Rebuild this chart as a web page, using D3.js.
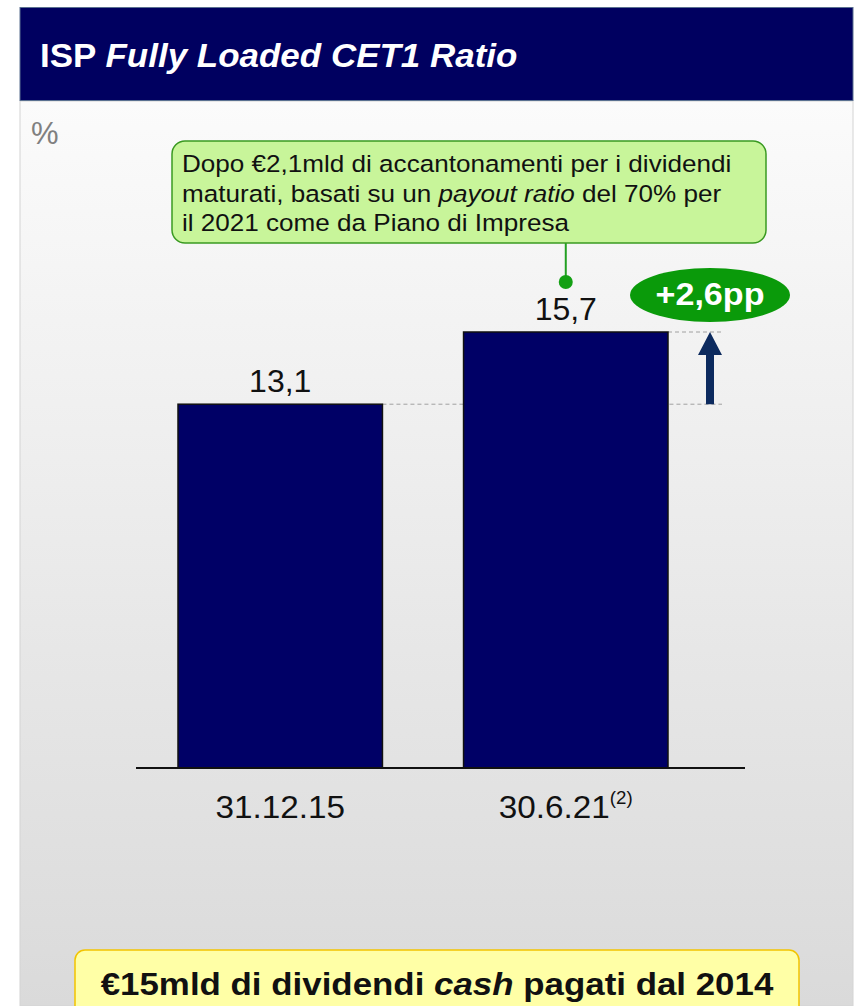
<!DOCTYPE html>
<html>
<head>
<meta charset="utf-8">
<script src="https://cdn.jsdelivr.net/npm/d3@7"></script>
<style>
  body { margin: 0; background: #ffffff; }
  svg { display: block; font-family: "Liberation Sans", Arial, sans-serif; }
</style>
</head>
<body>
<svg id="vis"></svg>
<script>
const WIDTH = 854;
const HEIGHT = 1006;

// dati del grafico
const categorie = ["31.12.15", "30.6.21"];
const note = ["", "(2)"];
const valori = [13.1, 15.7];
const etichette = ["13,1", "15,7"];
const delta = "+2,6pp";
const titolo = ["ISP ", "Fully Loaded CET1 Ratio"];
const calloutRighe = [
  [{ t: "Dopo €2,1mld di accantonamenti per i dividendi", i: false }],
  [{ t: "maturati, basati su un ", i: false }, { t: "payout ratio", i: true }, { t: " del 70% per", i: false }],
  [{ t: "il 2021 come da Piano di Impresa", i: false }],
];
const footer = [
  { t: "€15mld di dividendi ", i: false },
  { t: "cash", i: true },
  { t: " pagati dal 2014", i: false },
];

const NAVY = "#000060";
const GREEN = "#0a9a0a";

const svg = d3.select("#vis").attr("width", WIDTH).attr("height", HEIGHT);

// testo allargato in orizzontale (il font originale e' piu' largo)
function testo(parent, x, y, sx) {
  return parent.append("g")
    .attr("transform", `translate(${x},${y}) scale(${sx},1)`)
    .append("text");
}

// sfondo pannello con gradiente
const defs = svg.append("defs");
const grad = defs.append("linearGradient")
  .attr("id", "sfondo").attr("x1", 0).attr("y1", 0).attr("x2", 0).attr("y2", 1);
grad.append("stop").attr("offset", "0%").attr("stop-color", "#fbfbfb");
grad.append("stop").attr("offset", "100%").attr("stop-color", "#dadada");

svg.append("rect")
  .attr("x", 20).attr("y", 101).attr("width", 833).attr("height", HEIGHT - 101)
  .attr("fill", "url(#sfondo)")
  .attr("stroke", "#d4d4d4").attr("stroke-width", 1);

// intestazione
svg.append("rect")
  .attr("x", 20).attr("y", 7.5).attr("width", 833).attr("height", 93)
  .attr("fill", NAVY)
  .attr("stroke", "#5a7090").attr("stroke-width", 1);

const tit = testo(svg, 40, 67, 1.06)
  .attr("fill", "white").attr("font-size", "33px").attr("font-weight", "bold");
tit.append("tspan").text(titolo[0]);
tit.append("tspan").attr("font-style", "italic").text(titolo[1]);

svg.append("text")
  .attr("x", 31).attr("y", 144)
  .attr("fill", "#808080").attr("font-size", "31px")
  .text("%");

// scale
const x = d3.scaleBand()
  .domain(categorie)
  .range([178, 668])
  .paddingInner(0.284)
  .paddingOuter(0);

const y = d3.scaleLinear()
  .domain([0, 15.7])
  .range([768, 332]);

const dati = categorie.map((c, i) => ({ cat: c, val: valori[i], lab: etichette[i], nota: note[i] }));

// linee tratteggiate di riferimento
const xDelta = 710;
svg.selectAll(".rif")
  .data(dati)
  .join("line")
  .attr("class", "rif")
  .attr("x1", (d) => x(d.cat) + x.bandwidth())
  .attr("x2", 722)
  .attr("y1", (d) => y(d.val))
  .attr("y2", (d) => y(d.val))
  .attr("stroke", "#a0a0a0")
  .attr("stroke-width", 1)
  .attr("stroke-dasharray", "4 3");

// barre
svg.selectAll(".barra")
  .data(dati)
  .join("rect")
  .attr("class", "barra")
  .attr("x", (d) => x(d.cat))
  .attr("y", (d) => y(d.val))
  .attr("width", x.bandwidth())
  .attr("height", (d) => y(0) - y(d.val))
  .attr("fill", "#000066")
  .attr("stroke", "#111111")
  .attr("stroke-width", 1.5);

// asse x (linea di base piu' lunga delle barre)
svg.append("line")
  .attr("x1", 136).attr("x2", 745)
  .attr("y1", y(0)).attr("y2", y(0))
  .attr("stroke", "#111").attr("stroke-width", 2);

// etichette categorie
dati.forEach((d) => {
  const t = testo(svg, x(d.cat) + x.bandwidth() / 2, 818, 1.04)
    .attr("text-anchor", "middle")
    .attr("font-size", "32px")
    .attr("fill", "#111");
  t.append("tspan").text(d.cat);
  if (d.nota) {
    t.append("tspan")
      .attr("font-size", "18px")
      .attr("dy", -14)
      .text(d.nota);
  }
});

// valori sopra le barre
dati.forEach((d) => {
  testo(svg, x(d.cat) + x.bandwidth() / 2, y(d.val) - 12, 1.0)
    .attr("text-anchor", "middle")
    .attr("font-size", "32px")
    .attr("fill", "#111")
    .text(d.lab);
});

// freccia del delta
const yBasso = y(valori[0]);
const yAlto = y(valori[1]);
svg.append("path")
  .attr("d", `M${xDelta - 4},${yBasso} L${xDelta - 4},${yAlto + 23} L${xDelta - 12},${yAlto + 23} L${xDelta},${yAlto} L${xDelta + 12},${yAlto + 23} L${xDelta + 4},${yAlto + 23} L${xDelta + 4},${yBasso} Z`)
  .attr("fill", "#0c2a5e");

// ellisse +2,6pp
svg.append("ellipse")
  .attr("cx", 710).attr("cy", 295).attr("rx", 80).attr("ry", 27)
  .attr("fill", GREEN);
testo(svg, 710, 305, 1.1)
  .attr("text-anchor", "middle")
  .attr("fill", "white").attr("font-size", "31px").attr("font-weight", "bold")
  .text(delta);

// callout verde
const xCallout = x(categorie[1]) + x.bandwidth() / 2;
svg.append("line")
  .attr("x1", xCallout).attr("x2", xCallout)
  .attr("y1", 243).attr("y2", 282)
  .attr("stroke", "#22a022").attr("stroke-width", 2);
svg.append("circle")
  .attr("cx", xCallout).attr("cy", 282).attr("r", 7)
  .attr("fill", "#14a014");
svg.append("rect")
  .attr("x", 172).attr("y", 141).attr("width", 594).attr("height", 102)
  .attr("rx", 13)
  .attr("fill", "#c8f59a")
  .attr("stroke", "#3a9a22").attr("stroke-width", 1.5);

calloutRighe.forEach((riga, i) => {
  const t = testo(svg, 182, 172 + i * 29.5, 1.11)
    .attr("font-size", "23.5px").attr("fill", "#111");
  riga.forEach((p) => {
    t.append("tspan").attr("font-style", p.i ? "italic" : "normal").text(p.t);
  });
});

// box giallo in basso
svg.append("rect")
  .attr("x", 75).attr("y", 950).attr("width", 724).attr("height", 80)
  .attr("rx", 10)
  .attr("fill", "#ffffa6")
  .attr("stroke", "#f2c400").attr("stroke-width", 1.5);
const ft = testo(svg, 437, 995, 1.09)
  .attr("text-anchor", "middle")
  .attr("font-size", "32px").attr("font-weight", "bold").attr("fill", "#111");
footer.forEach((p) => {
  ft.append("tspan").attr("font-style", p.i ? "italic" : "normal").text(p.t);
});
</script>
</body>
</html>
